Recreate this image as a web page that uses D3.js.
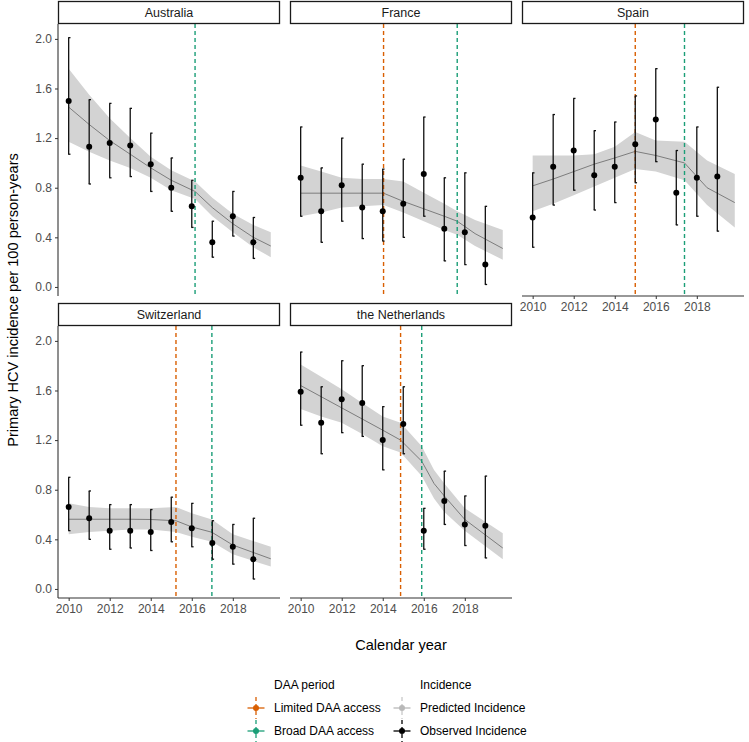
<!DOCTYPE html>
<html>
<head>
<meta charset="utf-8">
<script src="https://cdn.jsdelivr.net/npm/d3@7"></script>
<style>
  html, body { margin: 0; padding: 0; background: #fff; }
  svg { display: block; font-family: "Liberation Sans", Arial, sans-serif; }
</style>
</head>
<body>
<svg id="chart" width="749" height="742"></svg>
<script>
// ---------------- DATA ----------------
const countries = ["Australia", "France", "Spain", "Switzerland", "the Netherlands"];
const years = [2010, 2011, 2012, 2013, 2014, 2015, 2016, 2017, 2018, 2019];
const yTicks = [0.0, 0.4, 0.8, 1.2, 1.6, 2.0];
const xTicks = [2010, 2012, 2014, 2016, 2018];

// Observed incidence (point, lower, upper)
const obsAustralia = [1.50, 1.13, 1.16, 1.14, 0.99, 0.80, 0.65, 0.36, 0.57, 0.36];
const loAustralia  = [1.07, 0.83, 0.88, 0.89, 0.77, 0.61, 0.48, 0.24, 0.41, 0.23];
const hiAustralia  = [2.01, 1.51, 1.48, 1.44, 1.24, 1.04, 0.86, 0.53, 0.77, 0.56];

const obsFrance = [0.88, 0.61, 0.82, 0.64, 0.61, 0.67, 0.91, 0.47, 0.44, 0.18];
const loFrance  = [0.57, 0.36, 0.53, 0.39, 0.37, 0.40, 0.57, 0.21, 0.18, 0.02];
const hiFrance  = [1.29, 0.96, 1.20, 0.99, 0.95, 1.03, 1.37, 0.88, 0.92, 0.65];

const obsSpain = [0.56, 0.97, 1.10, 0.90, 0.97, 1.15, 1.35, 0.76, 0.88, 0.89];
const loSpain  = [0.32, 0.66, 0.78, 0.62, 0.68, 0.84, 1.01, 0.50, 0.57, 0.45];
const hiSpain  = [0.92, 1.39, 1.52, 1.26, 1.33, 1.54, 1.76, 1.10, 1.29, 1.61];

const obsSwitzerland = [0.66, 0.57, 0.47, 0.47, 0.46, 0.54, 0.49, 0.37, 0.34, 0.24];
const loSwitzerland  = [0.47, 0.40, 0.32, 0.33, 0.31, 0.38, 0.34, 0.24, 0.20, 0.08];
const hiSwitzerland  = [0.90, 0.79, 0.68, 0.68, 0.64, 0.74, 0.69, 0.55, 0.52, 0.57];

const obsNetherlands = [1.59, 1.34, 1.53, 1.50, 1.20, 1.33, 0.47, 0.71, 0.52, 0.51];
const loNetherlands  = [1.32, 1.09, 1.26, 1.23, 0.96, 1.09, 0.32, 0.52, 0.35, 0.25];
const hiNetherlands  = [1.91, 1.63, 1.84, 1.80, 1.47, 1.63, 0.65, 0.95, 0.75, 0.91];

// Predicted incidence (time, estimate, lower, upper)
const predXAustralia  = [2010, 2011, 2012, 2013, 2014, 2015, 2016.16, 2017, 2018, 2019, 2019.85];
const predAustralia   = [1.45, 1.31, 1.18, 1.07, 0.96, 0.86, 0.77, 0.64, 0.51, 0.40, 0.33];
const predLoAustralia = [1.17, 1.09, 1.02, 0.96, 0.88, 0.78, 0.71, 0.57, 0.44, 0.32, 0.24];
const predHiAustralia = [1.76, 1.55, 1.36, 1.20, 1.05, 0.94, 0.85, 0.72, 0.59, 0.50, 0.44];

const predXFrance  = [2010, 2011, 2012, 2013, 2014.04, 2015, 2016, 2017, 2017.63, 2018.5, 2019.85];
const predFrance   = [0.756, 0.756, 0.756, 0.756, 0.756, 0.69, 0.63, 0.57, 0.53, 0.43, 0.31];
const predLoFrance = [0.57, 0.60, 0.64, 0.65, 0.66, 0.60, 0.53, 0.46, 0.42, 0.33, 0.22];
const predHiFrance = [0.98, 0.93, 0.88, 0.87, 0.87, 0.85, 0.76, 0.67, 0.61, 0.54, 0.46];

const predXSpain  = [2010, 2011, 2012, 2013, 2014, 2015, 2016, 2017.4, 2018.5, 2019.85];
const predSpain   = [0.815, 0.87, 0.93, 0.99, 1.04, 1.093, 1.06, 1.00, 0.80, 0.68];
const predLoSpain = [0.61, 0.67, 0.74, 0.81, 0.88, 0.95, 0.93, 0.86, 0.66, 0.48];
const predHiSpain = [1.06, 1.06, 1.06, 1.07, 1.13, 1.25, 1.18, 1.17, 1.02, 0.91];

const predXSwitzerland  = [2010, 2011, 2012, 2013, 2014, 2015.23, 2016, 2016.98, 2018, 2019.85];
const predSwitzerland   = [0.562, 0.562, 0.562, 0.562, 0.56, 0.55, 0.50, 0.457, 0.354, 0.243];
const predLoSwitzerland = [0.44, 0.46, 0.47, 0.48, 0.48, 0.46, 0.42, 0.38, 0.28, 0.18];
const predHiSwitzerland = [0.69, 0.66, 0.65, 0.65, 0.65, 0.66, 0.61, 0.56, 0.44, 0.34];

const predXNetherlands  = [2010, 2011, 2012, 2013, 2014, 2014.87, 2015.9, 2016.5, 2017, 2018, 2019.85];
const predNetherlands   = [1.64, 1.55, 1.46, 1.37, 1.28, 1.20, 1.03, 0.85, 0.75, 0.56, 0.33];
const predLoNetherlands = [1.45, 1.39, 1.34, 1.25, 1.15, 1.10, 0.91, 0.73, 0.62, 0.47, 0.24];
const predHiNetherlands = [1.81, 1.71, 1.61, 1.50, 1.39, 1.34, 1.15, 0.96, 0.85, 0.65, 0.45];

// DAA period dates (null = none)
const limitedDAA = [null, 2014.04, 2015.0, 2015.23, 2014.87];
const broadDAA   = [2016.16, 2017.63, 2017.4, 2016.98, 2015.9];

const legendDAA = ["Limited DAA access", "Broad DAA access"];
const legendIncidence = ["Predicted Incidence", "Observed Incidence"];

// ---------------- STYLE / LAYOUT ----------------
const colLimited = "#D95F02", colBroad = "#1B9E77";
const colPredKey = "#b8b8b8", colObs = "#000000";
const panelW = 222, panelH = 272, stripH = 23;
const colX = [58, 290, 522];
const rowY = [24, 326];

const observedAll = [
  [obsAustralia, loAustralia, hiAustralia],
  [obsFrance, loFrance, hiFrance],
  [obsSpain, loSpain, hiSpain],
  [obsSwitzerland, loSwitzerland, hiSwitzerland],
  [obsNetherlands, loNetherlands, hiNetherlands]
];
const predictedAll = [
  [predXAustralia, predAustralia, predLoAustralia, predHiAustralia],
  [predXFrance, predFrance, predLoFrance, predHiFrance],
  [predXSpain, predSpain, predLoSpain, predHiSpain],
  [predXSwitzerland, predSwitzerland, predLoSwitzerland, predHiSwitzerland],
  [predXNetherlands, predNetherlands, predLoNetherlands, predHiNetherlands]
];

const svg = d3.select("#chart");
const x = d3.scaleLinear().domain([2009.48, 2020.3]).range([0, panelW]);
const y = d3.scaleLinear().domain([-0.073, 2.12]).range([panelH, 0]);

countries.forEach((name, i) => {
  const col = i % 3, row = Math.floor(i / 3);
  const g = svg.append("g").attr("transform", `translate(${colX[col]},${rowY[row]})`);

  const [px, pm, plo, phi] = predictedAll[i];
  const pred = px.map((t, k) => ({ t, m: pm[k], lo: plo[k], hi: phi[k] }));
  const [om, olo, ohi] = observedAll[i];
  const obs = years.map((t, k) => ({ t, m: om[k], lo: olo[k], hi: ohi[k] }));

  // ribbon
  g.append("path").datum(pred)
    .attr("d", d3.area().x(d => x(d.t)).y0(d => y(d.lo)).y1(d => y(d.hi)))
    .attr("fill", "#d3d3d3").attr("stroke", "none");
  // predicted line
  g.append("path").datum(pred)
    .attr("d", d3.line().x(d => x(d.t)).y(d => y(d.m)))
    .attr("fill", "none").attr("stroke", "#737373").attr("stroke-width", 0.9);

  // DAA vertical lines
  [[limitedDAA[i], colLimited], [broadDAA[i], colBroad]].forEach(([v, c]) => {
    if (v == null) return;
    g.append("line")
      .attr("x1", x(v)).attr("x2", x(v)).attr("y1", 0).attr("y2", panelH)
      .attr("stroke", c).attr("stroke-width", 1.4).attr("stroke-dasharray", "4,3");
  });

  // error bars
  const eb = g.append("g").selectAll("g").data(obs).join("g");
  eb.append("line")
    .attr("x1", d => x(d.t)).attr("x2", d => x(d.t))
    .attr("y1", d => y(d.lo)).attr("y2", d => y(d.hi))
    .attr("stroke", "#111").attr("stroke-width", 1.3);
  eb.append("line")
    .attr("x1", d => x(d.t) - 0.5).attr("x2", d => x(d.t) + 1.8)
    .attr("y1", d => y(d.lo)).attr("y2", d => y(d.lo))
    .attr("stroke", "#111").attr("stroke-width", 1.3);
  eb.append("line")
    .attr("x1", d => x(d.t) - 0.5).attr("x2", d => x(d.t) + 1.8)
    .attr("y1", d => y(d.hi)).attr("y2", d => y(d.hi))
    .attr("stroke", "#111").attr("stroke-width", 1.3);
  // points
  g.append("g").selectAll("circle").data(obs).join("circle")
    .attr("cx", d => x(d.t)).attr("cy", d => y(d.m)).attr("r", 3)
    .attr("fill", "#000");

  // strip
  g.append("rect")
    .attr("x", 0.5).attr("y", -stripH + 0.5).attr("width", panelW - 1).attr("height", stripH - 1)
    .attr("fill", "#fff").attr("stroke", "#1a1a1a").attr("stroke-width", 1.3);
  g.append("text")
    .attr("x", panelW / 2).attr("y", -stripH / 2 + 4.5)
    .attr("text-anchor", "middle").attr("font-size", 12.5).attr("fill", "#1a1a1a")
    .text(name);

  // y axis on first column
  if (col === 0) {
    const ya = g.append("g").call(d3.axisLeft(y).tickValues(yTicks).tickFormat(d3.format(".1f")).tickSize(3).tickPadding(3));
    ya.select(".domain").attr("d", `M0,0V${panelH}`).attr("stroke", "#333").attr("stroke-width", 1.1);
    ya.selectAll(".tick line").attr("stroke", "#333");
    ya.selectAll(".tick text").attr("font-size", 12).attr("fill", "#4d4d4d").attr("font-family", "Liberation Sans, Arial, sans-serif");
  }
  // x axis on bottom panel of each column
  if (row === 1 || col === 2) {
    const xa = g.append("g").attr("transform", `translate(0,${panelH})`)
      .call(d3.axisBottom(x).tickValues(xTicks).tickFormat(d3.format("d")).tickSize(3).tickPadding(3));
    xa.select(".domain").attr("d", `M0,0H${panelW}`).attr("stroke", "#333").attr("stroke-width", 1.1);
    xa.selectAll(".tick line").attr("stroke", "#333");
    xa.selectAll(".tick text").attr("font-size", 12).attr("fill", "#4d4d4d").attr("font-family", "Liberation Sans, Arial, sans-serif");
  }
});

// axis titles
svg.append("text")
  .attr("transform", "translate(18,300) rotate(-90)")
  .attr("text-anchor", "middle").attr("font-size", 14.6).attr("fill", "#000")
  .text("Primary HCV incidence per 100 person-years");
svg.append("text")
  .attr("x", 401).attr("y", 650)
  .attr("text-anchor", "middle").attr("font-size", 14.6).attr("fill", "#000")
  .text("Calendar year");

// legends
function drawLegend(gx, title, labels, colors, vcolors) {
  const lg = svg.append("g").attr("transform", `translate(${gx},0)`);
  lg.append("text").attr("x", 18).attr("y", 689).attr("font-size", 12).attr("fill", "#000").text(title);
  labels.forEach((lab, k) => {
    const cy = 708 + k * 23;
    lg.append("line").attr("x1", 0).attr("x2", 0).attr("y1", cy - 11).attr("y2", cy + 11)
      .attr("stroke", vcolors[k]).attr("stroke-width", 1.3).attr("stroke-dasharray", "4,3");
    lg.append("line").attr("x1", -8.5).attr("x2", 8.5).attr("y1", cy).attr("y2", cy)
      .attr("stroke", colors[k]).attr("stroke-width", 1.3);
    lg.append("circle").attr("cx", 0).attr("cy", cy).attr("r", 3).attr("fill", colors[k]);
    lg.append("text").attr("x", 18).attr("y", cy + 4).attr("font-size", 12).attr("fill", "#000").text(lab);
  });
}
drawLegend(256, "DAA period", legendDAA, [colLimited, colBroad], [colLimited, colBroad]);
drawLegend(402, "Incidence", legendIncidence, [colPredKey, colObs], ["#c8c8c8", "#000"]);
</script>
</body>
</html>
